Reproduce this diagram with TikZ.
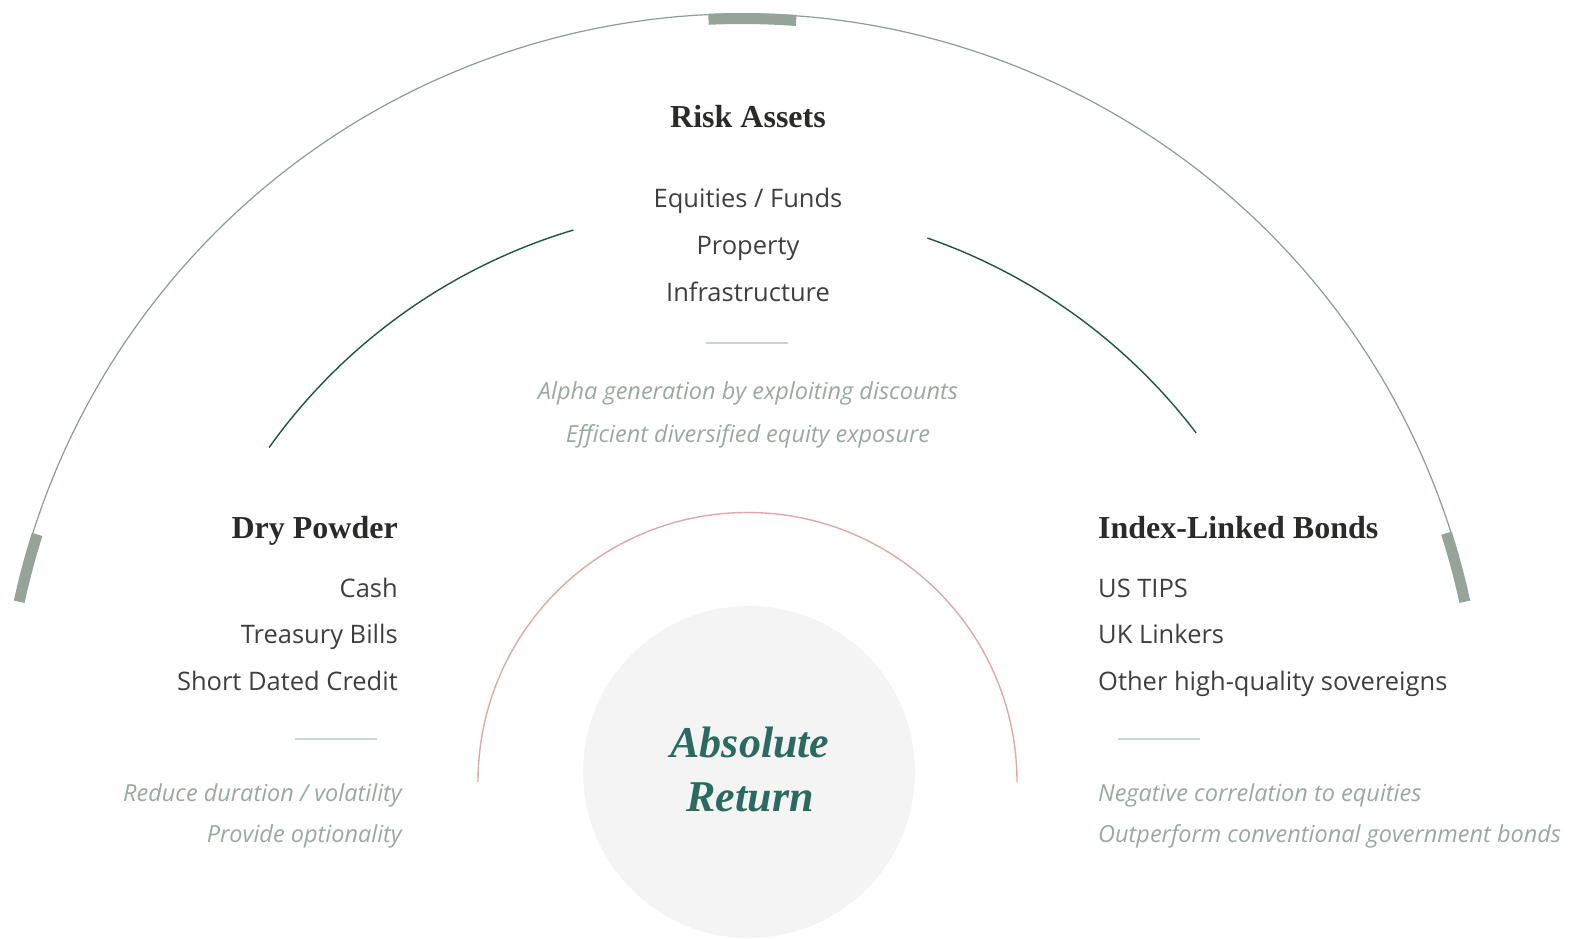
\documentclass[tikz,border=0pt]{standalone}
\usepackage{fontspec}
\setmainfont{Liberation Serif}
\newfontfamily\bodyfont{Open Sans}
\definecolor{headc}{HTML}{2A2A28}
\definecolor{bodyc}{HTML}{3E3F3E}
\definecolor{notec}{HTML}{9AA89F}
\definecolor{sepc}{HTML}{CAD5D0}
\definecolor{outerc}{HTML}{8E9B93}
\definecolor{barc}{HTML}{95A399}
\definecolor{innerc}{HTML}{1D5646}
\definecolor{pinkc}{HTML}{E3A6A9}
\definecolor{circc}{HTML}{F4F4F4}
\definecolor{absc}{HTML}{2B6A5E}
\tikzset{
  head/.style={inner sep=0pt, text=headc, font=\fontsize{32}{38}\selectfont\bfseries},
  item/.style={inner sep=0pt, text=bodyc, font=\bodyfont\fontsize{25.5}{30}\selectfont},
  note/.style={inner sep=0pt, text=notec, font=\bodyfont\itshape\fontsize{23.5}{28}\selectfont},
  sepline/.style={draw=sepc, line width=2.5pt},
  outerline/.style={draw=outerc, line width=1.2pt},
  barline/.style={draw=barc, line width=11pt},
  innerline/.style={draw=innerc, line width=1.4pt},
  pinkline/.style={draw=pinkc, line width=1.4pt},
  absnode/.style={inner sep=0pt, text=absc, font=\fontsize{44}{50}\selectfont\bfseries\itshape}
}
\begin{document}
\begin{tikzpicture}[x=1pt,y=1pt]
\useasboundingbox (0,0) rectangle (1569,939);
% centers
\coordinate (oc) at (742,181);
\coordinate (ic) at (738,157);
\coordinate (pc) at (747.5,157);
% outer arc and markers
\draw[outerline] (oc) ++(17.7:744) arc[start angle=17.7, end angle=162.4, radius=744];
\draw[barline] (oc) ++(12.2:739.5) arc[start angle=12.2, end angle=17.7, radius=739.5];
\draw[barline] (oc) ++(162.4:739.5) arc[start angle=162.4, end angle=167.8, radius=739.5];
\draw[barline] (oc) ++(85.8:739.5) arc[start angle=85.8, end angle=92.6, radius=739.5];
% inner arcs
\draw[innerline] (ic) ++(106.6:576) arc[start angle=106.6, end angle=144.5, radius=576];
\draw[innerline] (ic) ++(37.3:576) arc[start angle=37.3, end angle=70.8, radius=576];
% pink arc
\draw[pinkline] (pc) ++(0:269.5) arc[start angle=0, end angle=180, radius=269.5];
% centre circle
\node[circle, fill=circc, minimum size=332pt, inner sep=0pt] (core) at (749,167) {};
\node[absnode, anchor=base] (abs1) at (750,181) {Absolute};
\node[absnode, anchor=base] (abs2) at (750,127) {Return};
% Risk assets
\node[head, anchor=base] (ra) at (748,811) {Risk Assets};
\node[item, anchor=base] (ra1) at (748,731) {Equities / Funds};
\node[item, anchor=base] (ra2) at (748,684) {Property};
\node[item, anchor=base] (ra3) at (748,637) {Infrastructure};
\coordinate (ras1) at (706,596);
\coordinate (ras2) at (788,596);
\draw[sepline] (ras1) -- (ras2);
\node[note, anchor=base] (ran1) at (748,539) {Alpha generation by exploiting discounts};
\node[note, anchor=base] (ran2) at (748,496) {Efficient diversified equity exposure};
% Dry powder
\node[head, anchor=base east] (dp) at (398,400) {Dry Powder};
\node[item, anchor=base east] (dp1) at (398,341) {Cash};
\node[item, anchor=base east] (dp2) at (398,295) {Treasury Bills};
\node[item, anchor=base east] (dp3) at (398,248) {Short Dated Credit};
\coordinate (dps1) at (295,200);
\coordinate (dps2) at (377,200);
\draw[sepline] (dps1) -- (dps2);
\node[note, anchor=base east] (dpn1) at (402,137) {Reduce duration / volatility};
\node[note, anchor=base east] (dpn2) at (402,96) {Provide optionality};
% Index-linked bonds
\node[head, anchor=base west] (il) at (1098,400) {Index-Linked Bonds};
\node[item, anchor=base west] (il1) at (1098,341) {US TIPS};
\node[item, anchor=base west] (il2) at (1098,295) {UK Linkers};
\node[item, anchor=base west] (il3) at (1098,248) {Other high-quality sovereigns};
\coordinate (ils1) at (1118,200);
\coordinate (ils2) at (1200,200);
\draw[sepline] (ils1) -- (ils2);
\node[note, anchor=base west] (iln1) at (1098,137) {Negative correlation to equities};
\node[note, anchor=base west] (iln2) at (1098,96) {Outperform conventional government bonds};
\end{tikzpicture}
\end{document}
